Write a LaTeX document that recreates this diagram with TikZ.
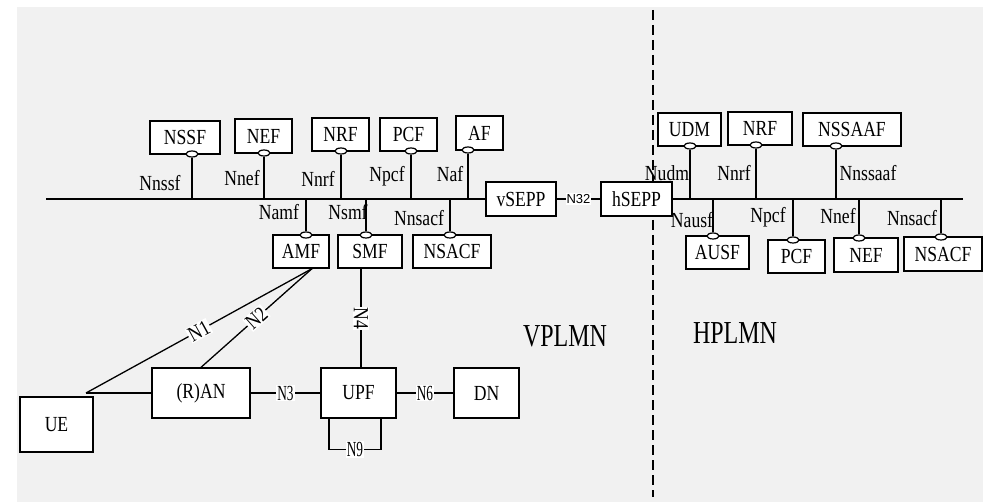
\documentclass[tikz,border=0pt]{standalone}
\usepackage{fontspec}
\setmainfont[FakeStretch=0.82]{Liberation Serif}
\newfontfamily\regionfont[FakeStretch=0.75]{Liberation Serif}
\newfontfamily\condfont[FakeStretch=0.62]{Liberation Serif}
\newfontfamily\nsansfont{Liberation Sans}
\usetikzlibrary{shapes.geometric}
\definecolor{bgray}{RGB}{241,241,241}
\tikzset{
  nf/.style={draw, line width=1.3pt, fill=white, inner sep=0pt, font=\fontsize{21.5}{24}\selectfont},
  port/.style={ellipse, draw, line width=1.2pt, fill=white, minimum width=12pt, minimum height=6pt, inner sep=0pt},
  wire/.style={line width=1.3pt},
  ilab/.style={font=\fontsize{21.5}{24}\selectfont, inner sep=0pt},
  reflab/.style={fill=white, inner sep=1pt, font=\fontsize{21.5}{24}\selectfont},
  condlab/.style={fill=white, inner sep=1pt, font=\condfont\fontsize{21.5}{24}\selectfont},
  sanslab/.style={fill=white, inner sep=1pt, font=\nsansfont\fontsize{13}{15}\selectfont},
  region/.style={inner sep=0pt, font=\regionfont\fontsize{32}{36}\selectfont},
}
\begin{document}
\begin{tikzpicture}[x=1pt, y=-1pt]
\useasboundingbox (0,0) rectangle (990,502);
\fill[bgray] (17,7) rectangle (983,502);
\draw[line width=1.3pt, dash pattern=on 10pt off 5pt] (653,10) -- (653,497);

% buses
\coordinate (busL) at (46,199);
\coordinate (busR) at (963,199);

% VPLMN upper NFs
\node[nf, minimum width=70pt, minimum height=33pt] (NSSF) at (185,137.5) {NSSF};
\node[nf, minimum width=57pt, minimum height=34pt] (NEF) at (263.5,136) {NEF};
\node[nf, minimum width=57pt, minimum height=33pt] (NRF) at (340.5,134.5) {NRF};
\node[nf, minimum width=57pt, minimum height=33pt] (PCF) at (408.5,134.5) {PCF};
\node[nf, minimum width=47pt, minimum height=34pt] (AF) at (479.5,133) {AF};
% SEPPs
\node[nf, minimum width=70pt, minimum height=34pt] (vSEPP) at (521,199) {vSEPP};
\node[nf, minimum width=71pt, minimum height=34pt] (hSEPP) at (636.5,199) {hSEPP};
% VPLMN lower NFs
\node[nf, minimum width=56pt, minimum height=33pt] (AMF) at (301,251.5) {AMF};
\node[nf, minimum width=64pt, minimum height=33pt] (SMF) at (370,251.5) {SMF};
\node[nf, minimum width=78pt, minimum height=33pt] (NSACF) at (452,251.5) {NSACF};
% HPLMN upper NFs
\node[nf, minimum width=63pt, minimum height=33pt] (UDM) at (689.5,129.5) {UDM};
\node[nf, minimum width=64pt, minimum height=33pt] (hNRF) at (760,128.5) {NRF};
\node[nf, minimum width=98pt, minimum height=33pt] (NSSAAF) at (852,129.5) {NSSAAF};
% HPLMN lower NFs
\node[nf, minimum width=63pt, minimum height=33pt] (AUSF) at (717.5,252.5) {AUSF};
\node[nf, minimum width=57pt, minimum height=33pt] (hPCF) at (796.5,256.5) {PCF};
\node[nf, minimum width=64pt, minimum height=34pt] (hNEF) at (866,255) {NEF};
\node[nf, minimum width=78pt, minimum height=34pt] (hNSACF) at (943,254) {NSACF};
% user plane
\node[nf, minimum width=73pt, minimum height=55pt] (UE) at (56.5,424.5) {UE};
\node[nf, minimum width=98pt, minimum height=50pt] (RAN) at (201,393) {(R)AN};
\node[nf, minimum width=75pt, minimum height=50pt] (UPF) at (358.5,393) {UPF};
\node[nf, minimum width=65pt, minimum height=50pt] (DN) at (486.5,393) {DN};

% bus lines
\draw[wire] (busL) -- (vSEPP.west);
\draw[wire] (hSEPP.east) -- (busR);
\draw[wire] (vSEPP.east) -- node[sanslab] {N32} (hSEPP.west);

% service ports
\foreach \n/\x/\y in {pNSSF/192/154, pNEF/264/153, pNRF/341/151, pPCF/411/151, pAF/468/150,
                      pUDM/690/146, phNRF/756/145, pNSSAAF/836/146}{
  \node[port] (\n) at (\x,\y) {};
  \draw[wire] (\n) -- (\n |- busL);
}
\foreach \n/\x/\y in {pAMF/306/235, pSMF/366/235, pNSACF/450/235,
                      pAUSF/713/236, phPCF/793/240, phNEF/859/238, phNSACF/941/237}{
  \node[port] (\n) at (\x,\y) {};
  \draw[wire] (\n) -- (\n |- busL);
}

% interface labels
\node[ilab] (lNnssf) at (160,183) {Nnssf};
\node[ilab] (lNnef) at (242,178) {Nnef};
\node[ilab] (lNnrf) at (318,179) {Nnrf};
\node[ilab] (lNpcf) at (387,176) {Npcf};
\node[ilab] (lNaf) at (450,174) {Naf};
\node[ilab] (lNamf) at (279,212) {Namf};
\node[ilab] (lNsmf) at (348,212) {Nsmf};
\node[ilab] (lNnsacf) at (419,218) {Nnsacf};
\node[ilab] (lNudm) at (667,173) {Nudm};
\node[ilab] (lhNnrf) at (734,173) {Nnrf};
\node[ilab] (lNnssaaf) at (868,173) {Nnssaaf};
\node[ilab] (lNausf) at (692,220) {Nausf};
\node[ilab] (lhNpcf) at (768,217) {Npcf};
\node[ilab] (lhNnef) at (838,216) {Nnef};
\node[ilab] (lhNnsacf) at (912,218) {Nnsacf};

% region labels
\node[region] (VPLMN) at (565,336) {VPLMN};
\node[region] (HPLMN) at (735,333) {HPLMN};

% reference points
\coordinate (ueP) at (86,393);
\coordinate (amfB) at ([xshift=11pt]AMF.south);
\draw[wire] (ueP) -- (RAN.west);
\draw[wire] (ueP) -- node[reflab, sloped] {N1} (amfB);
\draw[wire] (RAN.north) -- node[reflab, sloped] {N2} (amfB);
\draw[wire] ([xshift=-9pt]SMF.south) -- node[reflab, rotate=-90] {N4} ++(0,100);
\draw[wire] (RAN.east) -- node[condlab] {N3} (UPF.west);
\draw[wire] (UPF.east) -- node[condlab] {N6} (DN.west);
\draw[wire] ([xshift=-29.5pt]UPF.south) -- ++(0,31) -- node[condlab] {N9} ++(52,0) -- ([xshift=22.5pt]UPF.south);
\end{tikzpicture}
\end{document}
